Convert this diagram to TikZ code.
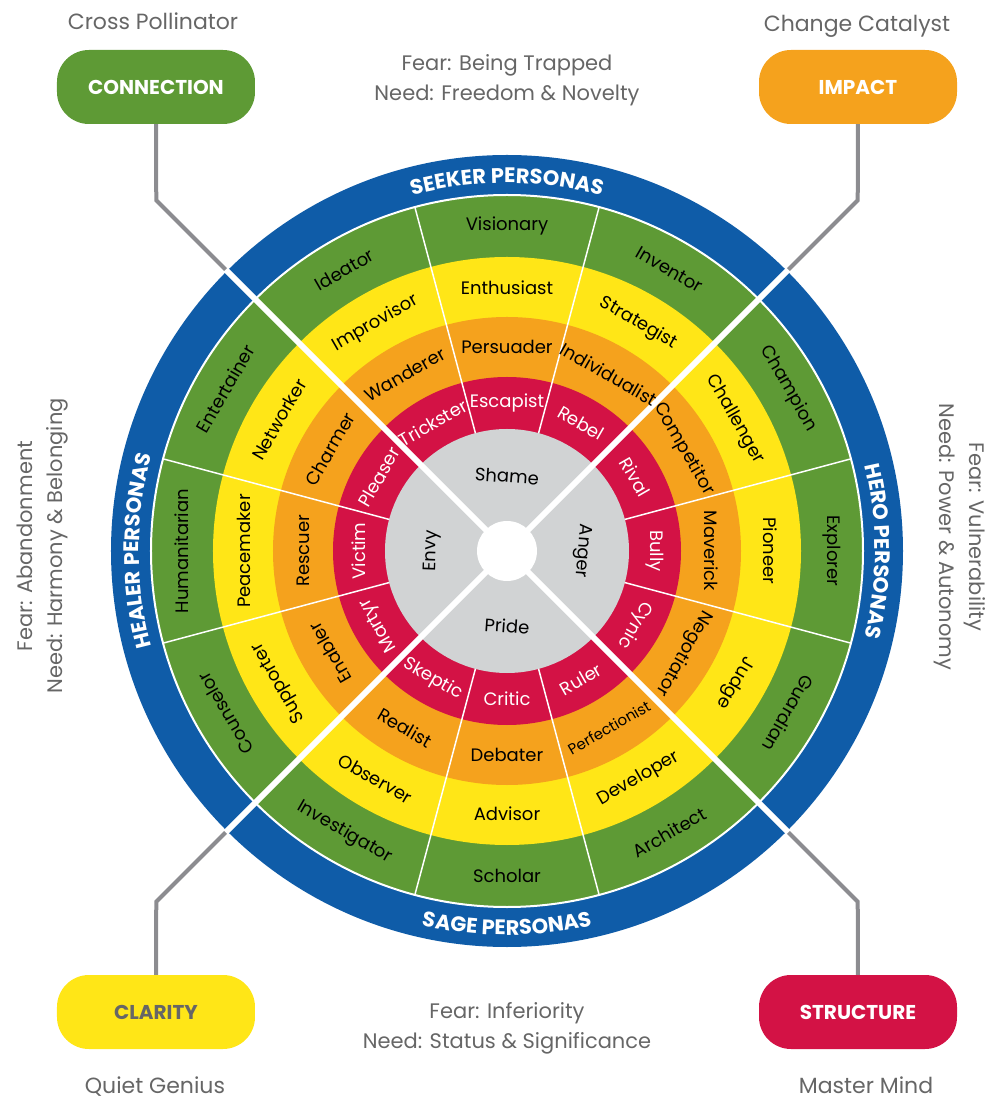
\documentclass[tikz,border=0pt]{standalone}
\usepackage{fontspec}
\setmainfont{Poppins}
\usetikzlibrary{decorations.text}

\definecolor{ringblue}{HTML}{0F5CA8}
\definecolor{ringgreen}{HTML}{5E9A35}
\definecolor{ringyellow}{HTML}{FFE617}
\definecolor{ringorange}{HTML}{F5A21D}
\definecolor{ringred}{HTML}{D31245}
\definecolor{ringgray}{HTML}{D1D3D4}
\definecolor{linkgray}{HTML}{8C8C90}
\definecolor{labelgray}{HTML}{666666}

\newcommand{\bandfont}{\fontsize{21}{21}\selectfont\bfseries}

\begin{document}
\begin{tikzpicture}[x=1pt, y=1pt]
    \tikzset{ringtext/.style = {font=\fontsize{18}{20}\selectfont, inner sep=0pt},
        redtext/.style  = {ringtext, text=white},
        split/.style    = {white, line width=1.5pt},
        gap/.style      = {white, line width=6pt},
        link/.style     = {linkgray, line width=4pt},
        box/.style      = {rounded corners=32pt, minimum width=198pt, minimum height=74pt,
                           text=white, font=\fontsize{20}{22}\selectfont\bfseries},
        tag/.style      = {text=labelgray, anchor=base, font=\fontsize{22}{24}\selectfont},
        need/.style     = {text=labelgray, align=center, font=\fontsize{21}{30}\selectfont},
        band/.style     = {decorate, decoration={text along path, text align=center,
                           text color=white, text={|\bandfont|#1}}}
        }

    \useasboundingbox (-507,-554) rectangle (492,551);

    % Draw the rings.
    \fill[ringblue] (0,0) circle[radius=396pt];
    \filldraw[fill=ringgreen, draw=white, line width=2pt] (0,0) circle[radius=356pt];
    \fill[ringyellow] (0,0) circle[radius=294pt];
    \fill[ringorange] (0,0) circle[radius=234pt];
    \fill[ringred] (0,0) circle[radius=174pt];
    \fill[ringgray] (0,0) circle[radius=122pt];

    % Sector splits and quadrant gaps.
    \foreach \a in {15,75,105,165,195,255,285,345}
        \draw[split] (\a:122) -- (\a:356);
    \foreach \a in {45,135,225,315}
        \draw[gap] (0,0) -- (\a:400);
    \fill[white] (0,0) circle[radius=30pt];

    % Persona names.
    \foreach \a/\t in {60/Inventor, 90/Visionary, 120/Ideator, 150/Entertainer,
        180/Humanitarian, 210/Counselor, 240/Investigator, 270/Scholar,
        300/Architect, 330/Guardian, 0/Explorer, 30/Champion} {
        \pgfmathsetmacro{\rot}{(\a>225 && \a<315) ? \a+90 : \a-90}
        \node[ringtext, rotate=\rot] (green-\a) at (\a:325) {\t};
    }
    \foreach \a/\t in {60/Strategist, 90/Enthusiast, 120/Improvisor, 150/Networker,
        180/Peacemaker, 210/Supporter, 240/Observer, 270/Advisor,
        300/Developer, 330/Judge, 0/Pioneer, 30/Challenger} {
        \pgfmathsetmacro{\rot}{(\a>225 && \a<315) ? \a+90 : \a-90}
        \node[ringtext, rotate=\rot] (yellow-\a) at (\a:263) {\t};
    }
    \foreach \a/\t in {60/Individualist, 90/Persuader, 120/Wanderer, 150/Charmer,
        180/Rescuer, 210/Enabler, 240/Realist, 270/Debater,
        300/{\fontsize{15}{15}\selectfont Perfectionist}, 330/Negotiator, 0/Maverick, 30/Competitor} {
        \pgfmathsetmacro{\rot}{(\a>225 && \a<315) ? \a+90 : \a-90}
        \node[ringtext, rotate=\rot] (orange-\a) at (\a:204) {\t};
    }
    \foreach \a/\t in {60/Rebel, 90/Escapist, 120/Trickster, 150/Pleaser,
        180/Victim, 210/Martyr, 240/Skeptic, 270/Critic,
        300/Ruler, 330/Cynic, 0/Bully, 30/Rival} {
        \pgfmathsetmacro{\rot}{(\a>225 && \a<315) ? \a+90 : \a-90}
        \node[redtext, rotate=\rot] (red-\a) at (\a:148) {\t};
    }
    \foreach \a/\r/\t in {90/-4/Shame, 0/-94/Anger, 270/-4/Pride, 180/88/Envy}
        \node[ringtext, rotate=\r] (gray-\a) at (\a:75) {\t};

    % Group names on the blue ring.
    \path[band=SEEKER PERSONAS] (120:368) arc[start angle=120, end angle=60, radius=368pt];
    \path[band=HERO PERSONAS] (30:368) arc[start angle=30, end angle=-30, radius=368pt];
    \path[band=HEALER PERSONAS] (210:368) arc[start angle=210, end angle=150, radius=368pt];
    \path[band=SAGE PERSONAS] (240:384) arc[start angle=240, end angle=300, radius=384pt];

    % Fears and needs.
    \node[need] (seeker-need) at (0,471) {Fear: Being Trapped\\Need: Freedom \& Novelty};
    \node[need, rotate=-90] (hero-need) at (453,14) {Fear: Vulnerability\\Need: Power \& Autonomy};
    \node[need, rotate=90] (healer-need) at (-464,5) {Fear: Abandonment\\Need: Harmony \& Belonging};
    \node[need] (sage-need) at (0,-477) {Fear: Inferiority\\Need: Status \& Significance};

    % Corner boxes.
    \node[box, fill=ringgreen] (connection) at (-351,464) {CONNECTION};
    \node[box, fill=ringorange] (impact) at (351,464) {IMPACT};
    \node[box, fill=ringyellow, text=labelgray] (clarity) at (-351,-461) {CLARITY};
    \node[box, fill=ringred] (structure) at (351,-461) {STRUCTURE};

    \node[tag] (cross) at (-354,521) {Cross Pollinator};
    \node[tag] (catalyst) at (350,519) {Change Catalyst};
    \node[tag] (genius) at (-352,-542) {Quiet Genius};
    \node[tag] (mastermind) at (359,-542) {Master Mind};

    % Links to the wheel.
    \coordinate (connection-bend) at (135:496);
    \coordinate (connection-end) at (135:398);
    \coordinate (impact-bend) at (45:496);
    \coordinate (impact-end) at (45:398);
    \coordinate (clarity-bend) at (225:496);
    \coordinate (clarity-end) at (225:398);
    \coordinate (structure-bend) at (315:496);
    \coordinate (structure-end) at (315:398);
    \draw[link] (connection) -- (connection-bend) -- (connection-end);
    \draw[link] (impact) -- (impact-bend) -- (impact-end);
    \draw[link] (clarity) -- (clarity-bend) -- (clarity-end);
    \draw[link] (structure) -- (structure-bend) -- (structure-end);
\end{tikzpicture}
\end{document}
